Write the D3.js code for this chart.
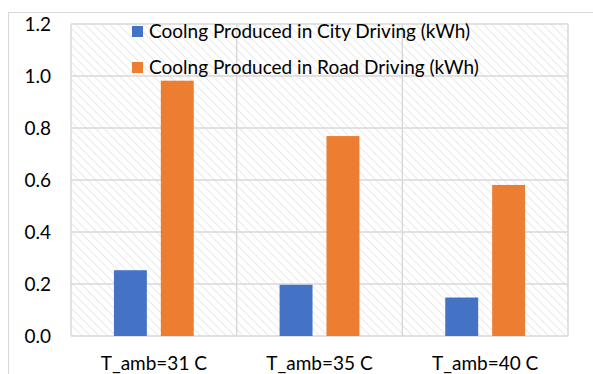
<!DOCTYPE html>
<html>
<head>
<meta charset="utf-8">
<script src="https://cdn.jsdelivr.net/npm/d3@7"></script>
<style>
  html, body { margin: 0; padding: 0; background: #fff; }
  svg { display: block; }
  text { font-family: Lato, "Open Sans", sans-serif; fill: #000; }
</style>
</head>
<body>
<svg id="chart" width="593" height="374"></svg>
<script>
const categories = ["T_amb=31 C", "T_amb=35 C", "T_amb=40 C"];
const seriesNames = ["Coolng Produced in City Driving (kWh)", "Coolng Produced in Road Driving (kWh)"];
const cityValues = [0.253, 0.197, 0.148];
const roadValues = [0.982, 0.769, 0.581];
const yTicks = [0, 0.2, 0.4, 0.6, 0.8, 1.0, 1.2];
const colors = ["#4472C4", "#ED7D31"];

const svg = d3.select("#chart");
const plot = { left: 71, right: 568, top: 24, bottom: 336 };
const FONT = "Lato, 'Open Sans', sans-serif";
const FS = 19;

// outer chart frame
svg.append("rect")
  .attr("x", 8.5).attr("y", 12.5)
  .attr("width", 620).attr("height", 420)
  .attr("fill", "#fff").attr("stroke", "#d9d9d9").attr("stroke-width", 1);

// diagonal hatch for the plot background
const defs = svg.append("defs");
const pat = defs.append("pattern")
  .attr("id", "hatch")
  .attr("patternUnits", "userSpaceOnUse")
  .attr("width", 6).attr("height", 6)
  .attr("patternTransform", "rotate(-45)");
pat.append("rect").attr("width", 6).attr("height", 6).attr("fill", "#fff");
pat.append("line")
  .attr("x1", 0).attr("y1", 0).attr("x2", 0).attr("y2", 6)
  .attr("stroke", "#e0e0e0").attr("stroke-width", 1.4);

const x = d3.scaleBand().domain(categories).range([plot.left, plot.right]).padding(0);
const y = d3.scaleLinear().domain([0, 1.2]).range([plot.bottom, plot.top]);

svg.append("rect")
  .attr("x", plot.left).attr("y", plot.top)
  .attr("width", plot.right - plot.left).attr("height", plot.bottom - plot.top)
  .attr("fill", "url(#hatch)");

// horizontal gridlines
svg.append("g").selectAll("line").data(yTicks).join("line")
  .attr("x1", plot.left).attr("x2", plot.right)
  .attr("y1", d => y(d)).attr("y2", d => y(d))
  .attr("stroke", "#d9d9d9").attr("stroke-width", 1.5);

// vertical category separators
const seps = [...categories.map(c => x(c)), plot.right];
svg.append("g").selectAll("line").data(seps).join("line")
  .attr("x1", d => d).attr("x2", d => d)
  .attr("y1", plot.top).attr("y2", plot.bottom)
  .attr("stroke", "#d9d9d9").attr("stroke-width", 1.5);

// bars
const inner = d3.scaleBand().domain([0, 1]).range([0, x.bandwidth()]).paddingInner(0.298).paddingOuter(0.915);
const series = [cityValues, roadValues];
series.forEach((vals, si) => {
  svg.append("g").selectAll("rect").data(vals).join("rect")
    .attr("x", (d, i) => x(categories[i]) + inner(si))
    .attr("width", inner.bandwidth())
    .attr("y", d => y(d))
    .attr("height", d => y(0) - y(d))
    .attr("fill", colors[si]);
});

// y axis labels
const yAxis = d3.axisLeft(y).tickValues(yTicks).tickFormat(d3.format(".1f")).tickSize(0).tickPadding(20);
const gy = svg.append("g").attr("transform", `translate(${plot.left},0)`).call(yAxis);
gy.select(".domain").remove();
gy.selectAll("text").attr("font-size", FS).attr("font-family", FONT).attr("fill", "#000");

// x axis labels
const xAxis = d3.axisBottom(x).tickSize(0).tickPadding(20.5);
const gx = svg.append("g").attr("transform", `translate(0,${plot.bottom})`).call(xAxis);
gx.select(".domain").remove();
gx.selectAll("text").attr("font-size", FS).attr("font-family", FONT).attr("fill", "#000");

// legend
const legend = svg.append("g");
seriesNames.forEach((name, i) => {
  const ly = 26 + i * 36;
  legend.append("rect").attr("x", 132).attr("y", ly).attr("width", 11).attr("height", 11).attr("fill", colors[i]);
  legend.append("text").attr("x", 149).attr("y", ly + 12).attr("font-size", FS).text(name);
});
</script>
</body>
</html>
